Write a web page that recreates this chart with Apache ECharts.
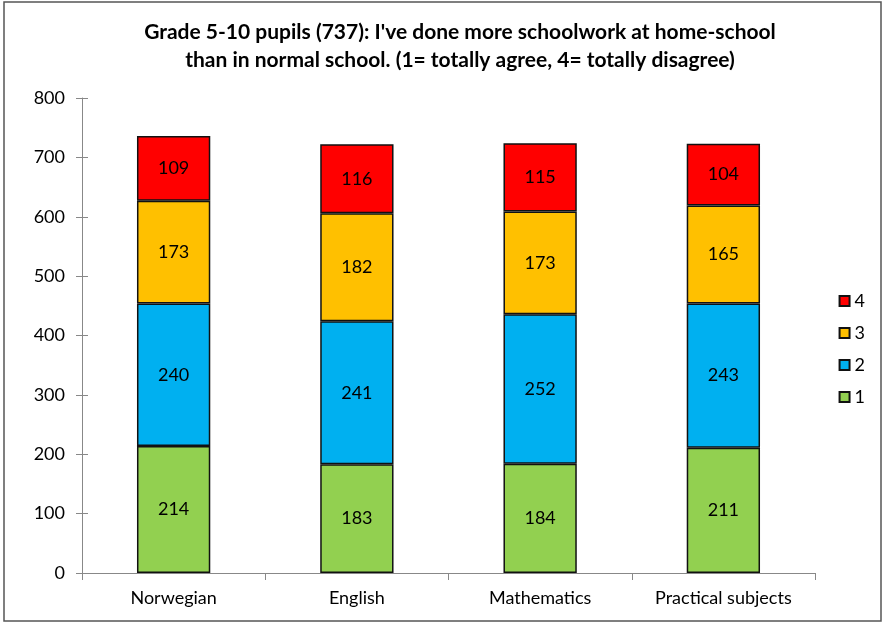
<!DOCTYPE html>
<html>
<head>
<meta charset="utf-8">
<script src="https://cdn.jsdelivr.net/npm/echarts@6/dist/echarts.min.js"></script>
<style>
  html, body { margin: 0; padding: 0; background: #fff; }
  #chart { width: 884px; height: 625px; }
</style>
</head>
<body>
<div id="chart"></div>
<script>
// data
const categories = ['Norwegian', 'English', 'Mathematics', 'Practical subjects'];
const answer1 = [214, 183, 184, 211];
const answer2 = [240, 241, 252, 243];
const answer3 = [173, 182, 173, 165];
const answer4 = [109, 116, 115, 104];
const yTicks = [0, 100, 200, 300, 400, 500, 600, 700, 800];

const font = 'Lato, "Open Sans", sans-serif';

const mkSeries = (name, data, color) => ({
  name: name,
  type: 'bar',
  stack: 'total',
  data: data,
  barWidth: '40%',
  itemStyle: { color: color, borderColor: '#111', borderWidth: 1.5 },
  label: {
    show: true,
    position: 'inside',
    color: '#000',
    fontSize: 18,
    fontFamily: font,
  },
});

const myChart = echarts.init(document.getElementById('chart'));
const option = {
  animation: false,
  title: {
    text: "Grade 5-10 pupils (737): I've done more schoolwork at home-school\nthan in normal school. (1= totally agree, 4= totally disagree)",
    left: 455,
    top: 13,
    textAlign: 'center',
    textStyle: {
      fontFamily: font,
      fontSize: 21,
      fontWeight: 'bold',
      color: '#000',
      lineHeight: 28,
    },
  },
  graphic: [
    {
      type: 'rect',
      shape: { x: 4, y: 2, width: 877, height: 619 },
      style: { fill: 'none', stroke: '#555', lineWidth: 1.5 },
      silent: true,
    },
  ],
  legend: {
    orient: 'vertical',
    right: 14,
    top: 287,
    data: ['4', '3', '2', '1'],
    icon: 'rect',
    itemWidth: 10,
    itemHeight: 10,
    itemGap: 14,
    textStyle: { fontSize: 18, fontFamily: font, color: '#000' },
  },
  grid: { left: 82, right: 69, top: 98, bottom: 52 },
  xAxis: [
    {
      type: 'category',
      data: categories,
      axisLine: { lineStyle: { color: '#888' } },
      axisTick: { show: true, length: 7, lineStyle: { color: '#888' } },
      axisLabel: { fontSize: 18, fontFamily: font, color: '#000', margin: 16 },
    },
    {
      type: 'category',
      data: categories,
      position: 'bottom',
      axisLine: { show: false },
      axisTick: { show: true, alignWithLabel: true, inside: true, length: 4, lineStyle: { color: '#888' } },
      axisLabel: { show: false },
    },
  ],
  yAxis: [
    {
      type: 'value',
      min: yTicks[0],
      max: yTicks[yTicks.length - 1],
      interval: 100,
      splitLine: { show: false },
      axisLine: { show: true, lineStyle: { color: '#888' } },
      axisTick: { show: true, length: 6, lineStyle: { color: '#888' } },
      axisLabel: { fontSize: 18, fontFamily: font, color: '#000', margin: 17 },
    },
    {
      type: 'value',
      position: 'left',
      min: yTicks[0],
      max: yTicks[yTicks.length - 1],
      interval: 100,
      splitLine: { show: false },
      axisLine: { show: false },
      axisTick: { show: true, inside: true, length: 6, lineStyle: { color: '#888' } },
      axisLabel: { show: false },
    },
  ],
  series: [
    mkSeries('1', answer1, '#92D050'),
    mkSeries('2', answer2, '#00B0F0'),
    mkSeries('3', answer3, '#FFC000'),
    mkSeries('4', answer4, '#FF0000'),
  ],
};

if (option && typeof option === 'object') {
  myChart.setOption(option, true);
}
</script>
</body>
</html>
